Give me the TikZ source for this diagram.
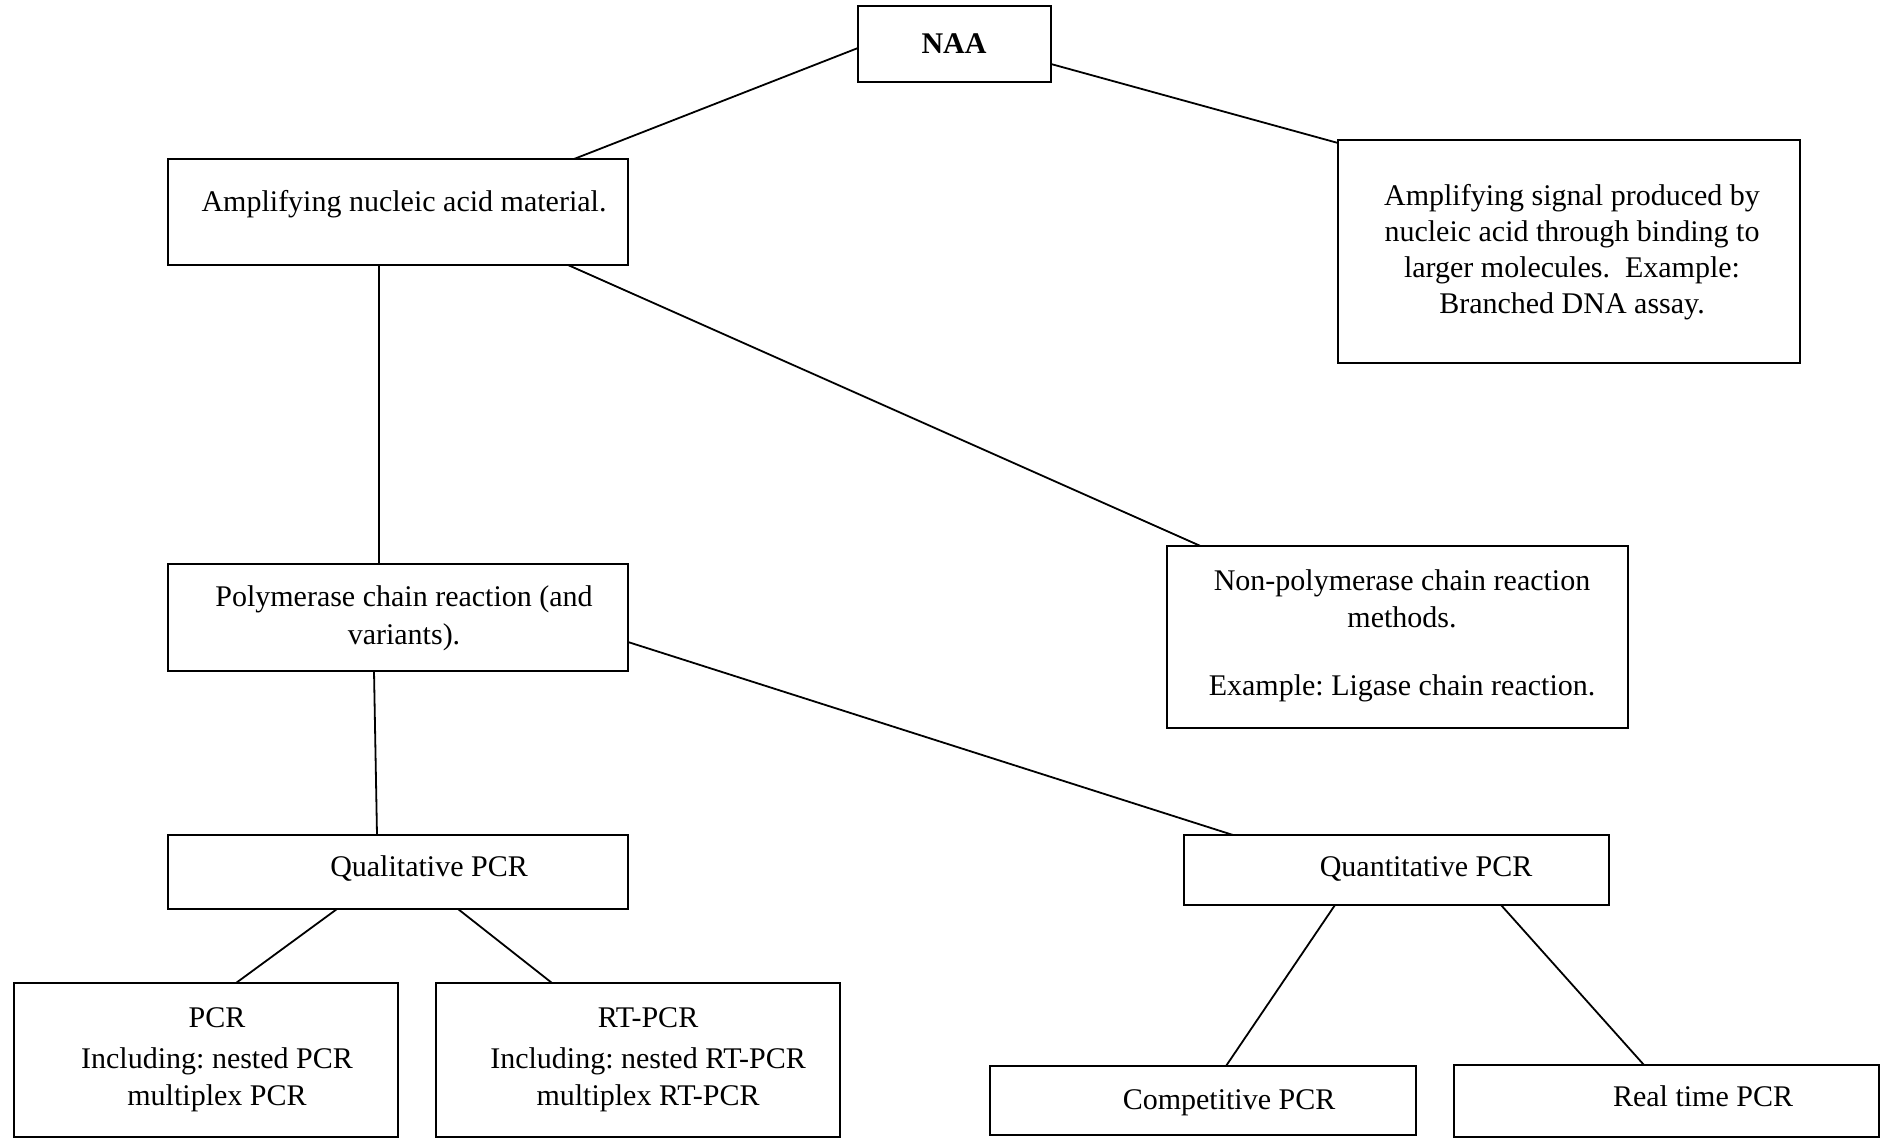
\documentclass[tikz,border=0pt]{standalone}
\usepackage{fontspec}
\setmainfont{Liberation Serif}
\usetikzlibrary{calc}
\frenchspacing
\begin{document}
\begin{tikzpicture}[x=1pt,y=-1pt,
  box/.style={draw,line width=2pt,rectangle,inner sep=0pt,outer sep=0pt},
  txt/.style={inner sep=0pt,outer sep=0pt,anchor=base,align=center,font=\fontsize{30}{37}\selectfont},
  conn/.style={line width=1.8pt}]
\useasboundingbox (0,0) rectangle (1887,1140);
% boxes
\node[box,minimum width=193pt,minimum height=76pt] (naa) at (954.5,44) {};
\node[box,minimum width=460pt,minimum height=106pt] (amp) at (398,212) {};
\node[box,minimum width=462pt,minimum height=223pt] (sig) at (1569,251.5) {};
\node[box,minimum width=460pt,minimum height=107pt] (poly) at (398,617.5) {};
\node[box,minimum width=461pt,minimum height=182pt] (nonpoly) at (1397,637) {};
\node[box,minimum width=460pt,minimum height=74pt] (qual) at (398,872) {};
\node[box,minimum width=425pt,minimum height=70pt] (quant) at (1396.5,870) {};
\node[box,minimum width=384pt,minimum height=154pt] (pcr) at (206,1060) {};
\node[box,minimum width=404pt,minimum height=154pt] (rt) at (638,1060) {};
\node[box,minimum width=426pt,minimum height=69pt] (comp) at (1203,1100.5) {};
\node[box,minimum width=425pt,minimum height=72pt] (real) at (1666.5,1101) {};
% texts (multi-line nodes: base = baseline of the last line)
\node[txt,font=\fontsize{30}{37}\selectfont\bfseries] (naat) at (954,53) {NAA};
\node[txt] (ampt) at (404,211) {Amplifying nucleic acid material.};
\node[txt,font=\fontsize{30}{36}\selectfont] (sigt) at (1572,313) {Amplifying signal produced by\\nucleic acid through binding to\\larger molecules.\ \ Example:\\Branched DNA assay.};
\node[txt,font=\fontsize{30}{38}\selectfont] (polyt) at (404,644) {Polymerase chain reaction (and\\variants).};
\node[txt] (nonpolyt) at (1402,695) {Non-polymerase chain reaction\\methods.\\[31pt]Example: Ligase chain reaction.};
\node[txt] (qualt) at (429,876) {Qualitative PCR};
\node[txt] (quantt) at (1426,876) {Quantitative PCR};
\node[txt] (pcrt) at (217,1105) {PCR\\[4pt]Including: nested PCR\\multiplex PCR};
\node[txt] (rtt) at (648,1105) {RT-PCR\\[4pt]Including: nested RT-PCR\\multiplex RT-PCR};
\node[txt] (compt) at (1229,1109) {Competitive PCR};
\node[txt] (realt) at (1703,1106) {Real time PCR};
% connectors
\draw[conn] ($(naa.north west)+(0,42)$) -- ($(amp.north west)+(406,0)$);
\draw[conn] ($(naa.north east)+(0,58)$) -- ($(sig.north west)+(0,3)$);
\draw[conn] ($(amp.south west)+(211,0)$) -- ($(poly.north west)+(211,0)$);
\draw[conn] ($(amp.south west)+(400,0)$) -- ($(nonpoly.north west)+(34,0)$);
\draw[conn] ($(poly.south west)+(206,0)$) -- ($(qual.north west)+(209,0)$);
\draw[conn] ($(poly.north east)+(0,78)$) -- ($(quant.north west)+(49,0)$);
\draw[conn] ($(qual.south west)+(169,0)$) -- ($(pcr.north west)+(222,0)$);
\draw[conn] ($(qual.south west)+(290,0)$) -- ($(rt.north west)+(116,0)$);
\draw[conn] ($(quant.south west)+(151,0)$) -- ($(comp.north west)+(236,0)$);
\draw[conn] ($(quant.south west)+(317,0)$) -- ($(real.north west)+(190,0)$);
\end{tikzpicture}
\end{document}
